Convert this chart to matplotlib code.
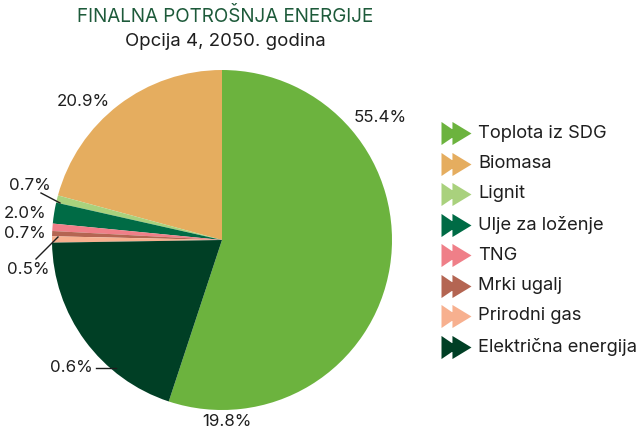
import matplotlib.pyplot as plt
from matplotlib.path import Path

# final energy consumption shares, option 4, year 2050
sources = ['Toplota iz SDG', 'Biomasa', 'Lignit', 'Ulje za loženje', 'TNG',
           'Mrki ugalj', 'Prirodni gas', 'Električna energija']
shares = [55.4, 20.9, 0.7, 2.0, 0.7, 0.5, 0.6, 19.8]
colors = ['#6cb33e', '#e5ad5f', '#a9d17d', '#006b45', '#ef7f88',
          '#b46552', '#f7b08f', '#003f25']

plt.rcParams['font.family'] = ['Inter', 'DejaVu Sans']
TXT = '#1e1e1e'

fig = plt.figure(figsize=(6.44, 4.32), dpi=100)
ax = fig.add_axes([0, 0, 1, 1])

# whole figure works in pixel units, y pointing up
cx, cy, r = 222, 192, 170
start = 90 - 360 * shares[0] / sum(shares)
wedges, _ = ax.pie(shares, colors=colors, startangle=start, counterclock=True,
                   center=(cx, cy), radius=r,
                   wedgeprops=dict(linewidth=0))
ax.set_xlim(0, 644)
ax.set_ylim(0, 432)
ax.set_aspect('equal')
ax.axis('off')

# percentage labels (text position, optional leader line end)
label_pos = [
    ((380, 315), None),
    ((83, 331), None),
    ((30, 246), ((41, 239), (60, 229))),
    ((25, 218), None),
    ((25, 199), None),
    ((28, 163), ((36, 173), (58, 195))),
    ((71, 64), ((96, 64), (116, 64))),
    ((227, 10), None),
]
for val, (pos, line) in zip(shares, label_pos):
    ax.text(pos[0], pos[1], f'{val:.1f}%', ha='center', va='center',
            fontsize=12.2, color=TXT)
    if line:
        ax.plot([line[0][0], line[1][0]], [line[0][1], line[1][1]],
                color=TXT, lw=1)

# title
ax.text(225, 415, 'FINALNA POTROŠNJA ENERGIJE', ha='center', va='center',
        fontsize=13.6, color='#1d5a3a')
ax.text(225, 391, 'Opcija 4, 2050. godina', ha='center', va='center',
        fontsize=13.4, color=TXT)

# double-arrow legend marker
arrows = Path([(-1.0, -0.77), (0.13, 0.0), (-1.0, 0.77), (-1.0, -0.77),
               (-0.27, -0.77), (1.0, 0.0), (-0.27, 0.77), (-0.27, -0.77)],
              [Path.MOVETO, Path.LINETO, Path.LINETO, Path.CLOSEPOLY] * 2)

for i, (name, col) in enumerate(zip(sources, colors)):
    y = 299 - i * 30.5
    ax.plot(456, y, marker=arrows, ms=21.6, color=col, mew=0, ls='none')
    ax.text(478, y, name, ha='left', va='center', fontsize=13.2, color=TXT)

fig.savefig('out.png', dpi=100)
